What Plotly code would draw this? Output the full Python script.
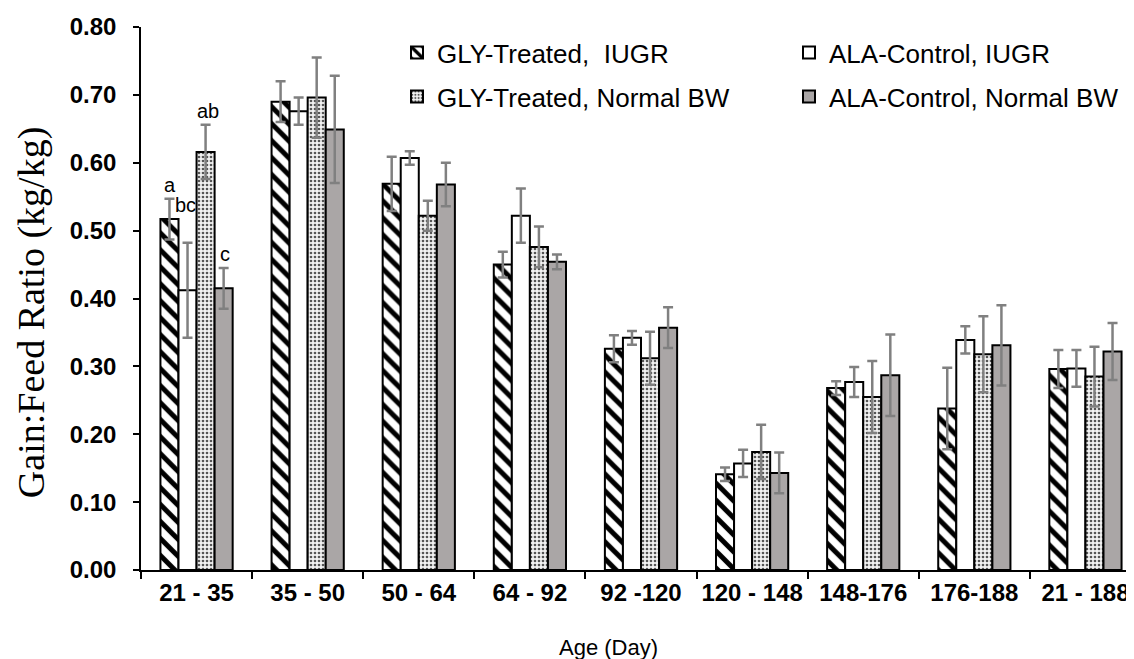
import plotly.graph_objects as go

categories = ['21 - 35', '35 - 50', '50 - 64', '64 - 92', '92 -120',
              '120 - 148', '148-176', '176-188', '21 - 188']

gly_iugr = [0.517, 0.690, 0.569, 0.450, 0.326, 0.141, 0.268, 0.238, 0.296]
gly_iugr_se = [0.030, 0.030, 0.040, 0.019, 0.020, 0.010, 0.010, 0.060, 0.028]
ala_iugr = [0.412, 0.676, 0.607, 0.522, 0.342, 0.157, 0.277, 0.339, 0.297]
ala_iugr_se = [0.070, 0.020, 0.010, 0.040, 0.010, 0.020, 0.022, 0.020, 0.027]
gly_normal = [0.616, 0.696, 0.522, 0.476, 0.312, 0.174, 0.255, 0.318, 0.285]
gly_normal_se = [0.040, 0.059, 0.022, 0.030, 0.039, 0.040, 0.053, 0.056, 0.044]
ala_normal = [0.415, 0.649, 0.568, 0.454, 0.357, 0.143, 0.287, 0.331, 0.322]
ala_normal_se = [0.030, 0.079, 0.032, 0.011, 0.030, 0.030, 0.060, 0.059, 0.042]

series_names = ['GLY-Treated,\u00a0 IUGR', 'ALA-Control, IUGR',
                'GLY-Treated, Normal BW', 'ALA-Control, Normal BW']

# significance letters for first period (per series)
sig_letters = ['a', 'bc', 'ab', 'c']

SANS = 'Liberation Sans, Arial, sans-serif'
SERIF = 'Liberation Serif, Times New Roman, serif'
ERR_COLOR = '#808080'

fig = go.Figure()

styles = [
    dict(color='white', pattern=dict(shape='\\', size=12, solidity=0.42,
                                     fgcolor='black', bgcolor='white', fillmode='replace')),
    dict(color='white'),
    dict(color='white', pattern=dict(shape='.', size=4, solidity=0.35,
                                     fgcolor='#555555', bgcolor='#f2f2f2', fillmode='replace')),
    dict(color='#aaa6a6'),
]
values = [gly_iugr, ala_iugr, gly_normal, ala_normal]
errors = [gly_iugr_se, ala_iugr_se, gly_normal_se, ala_normal_se]
legends = ['legend', 'legend', 'legend2', 'legend2']

for name, v, e, st, lg in zip(series_names, values, errors, styles, legends):
    marker = dict(line=dict(color='black', width=2), **st)
    fig.add_trace(go.Bar(
        x=categories, y=v, name=name, marker=marker, legend=lg,
        error_y=dict(type='data', array=e, visible=True, color=ERR_COLOR,
                     thickness=2.5, width=5),
    ))

# letters above first group
bar_offsets = [-27, -11, 11, 28]
letter_shift = [14, 38, 14, 14]
for i, letter in enumerate(sig_letters):
    top = values[i][0] + errors[i][0]
    fig.add_annotation(x=categories[0], y=top, text=letter, showarrow=False,
                       xshift=bar_offsets[i], yshift=letter_shift[i],
                       xanchor='center', yanchor='middle',
                       font=dict(family=SANS, size=20, color='black'))

# axis titles
fig.add_annotation(xref='paper', yref='paper', x=-0.11, y=0.473,
                   xanchor='center', yanchor='middle',
                   text='Gain:Feed Ratio (kg/kg)', textangle=-90, showarrow=False,
                   font=dict(family=SERIF, size=38, color='black'))
fig.add_annotation(xref='paper', yref='paper', x=0.467, y=-0.143,
                   text='Age (Day)', showarrow=False, xanchor='center', yanchor='middle',
                   font=dict(family=SANS, size=22, color='black'))

legend_common = dict(orientation='h', xref='paper', yref='paper',
                     bgcolor='rgba(0,0,0,0)', font=dict(family=SANS, size=26, color='black'),
                     entrywidth=347, entrywidthmode='pixels', yanchor='middle',
                     xanchor='left')

fig.update_layout(
    width=1134, height=659,
    margin=dict(l=133, r=1, t=19, b=97, autoexpand=False),
    paper_bgcolor='white', plot_bgcolor='white',
    barmode='group', bargap=0.35, bargroupgap=0,
    showlegend=True,
    legend=dict(x=0.256, y=0.953, **legend_common),
    legend2=dict(x=0.256, y=0.872, **legend_common),
    xaxis=dict(showline=True, linecolor='black', linewidth=1.5, automargin=False,
               ticks='outside', tickson='boundaries', ticklen=7, tickcolor='black',
               tickwidth=1.5, showgrid=False, tickangle=0,
               tickfont=dict(family=SANS, size=24, color='black', weight='bold')),
    yaxis=dict(range=[0, 0.8], dtick=0.1, tickformat='.2f', automargin=False,
               showline=True, linecolor='black', linewidth=1.5,
               ticks='outside', ticklen=6, tickcolor='black', tickwidth=1.5,
               showgrid=False, zeroline=False, ticklabelstandoff=12,
               tickfont=dict(family=SANS, size=24, color='black', weight='bold')),
)

fig.write_html('out.html')
